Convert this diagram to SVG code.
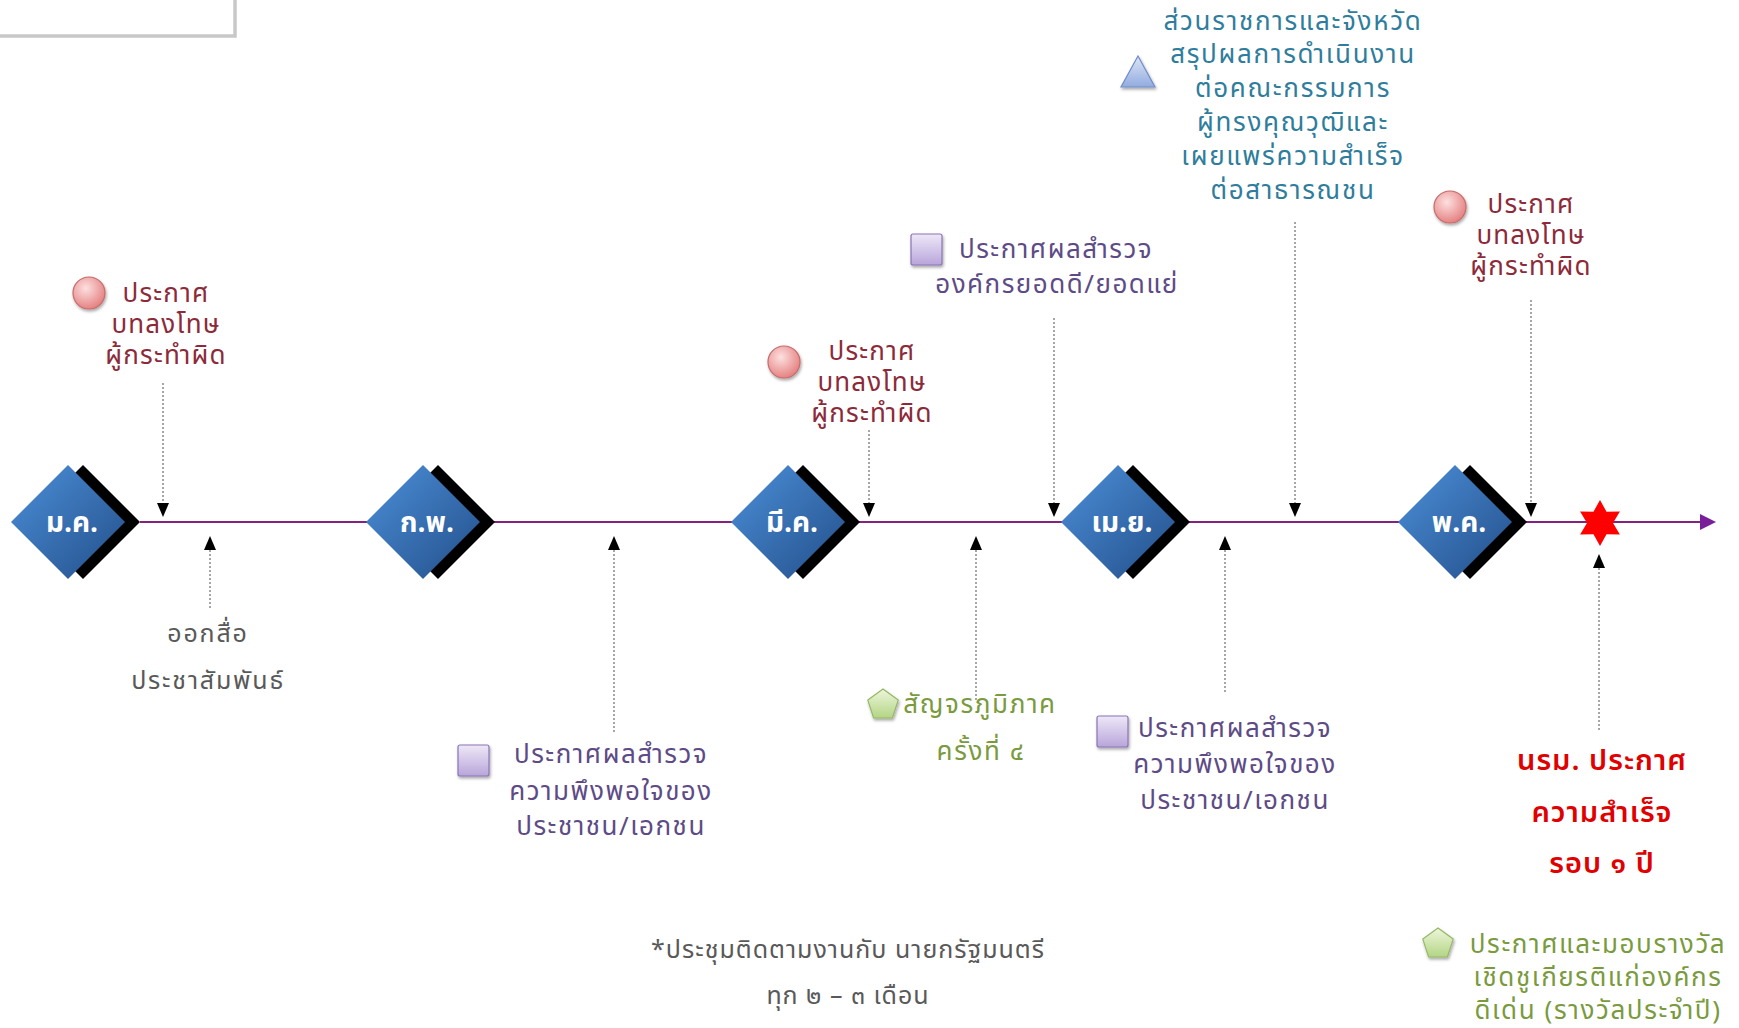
<svg xmlns="http://www.w3.org/2000/svg" width="1739" height="1028" viewBox="0 0 1739 1028">
<defs>
<linearGradient id="gBlue" x1="0" y1="0" x2="1" y2="1"><stop offset="0" stop-color="#4C8FD8"/><stop offset="1" stop-color="#234F8A"/></linearGradient>
<radialGradient id="gRed" cx="0.4" cy="0.35" r="0.7"><stop offset="0" stop-color="#FDE0E0"/><stop offset="1" stop-color="#E47C7C"/></radialGradient>
<linearGradient id="gPur" x1="0" y1="0" x2="0" y2="1"><stop offset="0" stop-color="#EEE8F7"/><stop offset="1" stop-color="#B8A5DA"/></linearGradient>
<linearGradient id="gGrn" x1="0" y1="0" x2="0" y2="1"><stop offset="0" stop-color="#EEF6DC"/><stop offset="1" stop-color="#B3D584"/></linearGradient>
<linearGradient id="gTri" x1="0" y1="0" x2="0" y2="1"><stop offset="0" stop-color="#DCE5F7"/><stop offset="1" stop-color="#92ACDF"/></linearGradient>
<filter id="sh" x="-30%" y="-30%" width="160%" height="160%"><feDropShadow dx="1" dy="2" stdDeviation="1.5" flood-color="#000" flood-opacity="0.35"/></filter>
</defs>
<style>
text{font-family:'Noto Sans Thai','Tahoma','DejaVu Sans','Liberation Sans',sans-serif;text-anchor:middle}
.mon{fill:#fff;font-size:28px;font-weight:bold}
.red{fill:#8C2A3A;font-size:26px;letter-spacing:1.2px}
.pur{fill:#5E4B86;font-size:26px;letter-spacing:1.5px}
.teal{fill:#2F7D9C;font-size:26px;letter-spacing:1.7px}
.grn{fill:#7A9A3E;font-size:26px;letter-spacing:1.6px}
.gry{fill:#595959;font-size:25px;letter-spacing:1.8px}
.note{fill:#595959;font-size:25px;letter-spacing:1px}
.rr{fill:#E00000;font-size:29px;font-weight:600;letter-spacing:1px}
.dot{stroke:#777;stroke-width:1.3;stroke-dasharray:2 2;fill:none}
.ah{fill:#000}
.blk{fill:#000}
.dia{fill:url(#gBlue)}
.circ{fill:url(#gRed);stroke:#C86A6A;stroke-width:1.2}
.sq{fill:url(#gPur);stroke:#8A74B6;stroke-width:1.2}
.pent{fill:url(#gGrn);stroke:#95B865;stroke-width:1.2}
</style>
<rect width="1739" height="1028" fill="#fff"/>

<g id="titlebox">
<rect x="-5" y="-10" width="240" height="46" fill="#fff" stroke="#C8C8C8" stroke-width="3.5"/>
</g>

<g id="connectors">
<line x1="140" y1="522" x2="1702" y2="522" stroke="#85217F" stroke-width="2"/>
<polygon points="1700,514 1716,522 1700,530" fill="#7A1F9A"/>
<line class="dot" x1="163" y1="383" x2="163" y2="503"/><polygon class="ah" points="157,503 169,503 163,517"/>
<line class="dot" x1="869" y1="430" x2="869" y2="503"/><polygon class="ah" points="863,503 875,503 869,517"/>
<line class="dot" x1="1054" y1="318" x2="1054" y2="503"/><polygon class="ah" points="1048,503 1060,503 1054,517"/>
<line class="dot" x1="1295" y1="222" x2="1295" y2="503"/><polygon class="ah" points="1289,503 1301,503 1295,517"/>
<line class="dot" x1="1531" y1="300" x2="1531" y2="503"/><polygon class="ah" points="1525,503 1537,503 1531,517"/>
<line class="dot" x1="210" y1="550" x2="210" y2="610"/><polygon class="ah" points="204,550 216,550 210,536"/>
<line class="dot" x1="614" y1="550" x2="614" y2="732"/><polygon class="ah" points="608,550 620,550 614,536"/>
<line class="dot" x1="976" y1="550" x2="976" y2="700"/><polygon class="ah" points="970,550 982,550 976,536"/>
<line class="dot" x1="1225" y1="550" x2="1225" y2="693"/><polygon class="ah" points="1219,550 1231,550 1225,536"/>
<line class="dot" x1="1599" y1="568" x2="1599" y2="730"/><polygon class="ah" points="1593,568 1605,568 1599,554"/>
</g>

<g id="jan">
<polygon class="blk" points="83,465 140,522 83,579 26,522"/>
<polygon class="dia" points="68,465 125,522 68,579 11,522"/>
<text class="mon" x="72" y="532">ม.ค.</text>
</g>
<g id="feb">
<polygon class="blk" points="438,465 495,522 438,579 381,522"/>
<polygon class="dia" points="423,465 480,522 423,579 366,522"/>
<text class="mon" x="427" y="532">ก.พ.</text>
</g>
<g id="mar">
<polygon class="blk" points="803,465 860,522 803,579 746,522"/>
<polygon class="dia" points="788,465 845,522 788,579 731,522"/>
<text class="mon" x="792" y="532">มี.ค.</text>
</g>
<g id="apr">
<polygon class="blk" points="1133,465 1190,522 1133,579 1076,522"/>
<polygon class="dia" points="1118,465 1175,522 1118,579 1061,522"/>
<text class="mon" x="1122" y="532">เม.ย.</text>
</g>
<g id="may">
<polygon class="blk" points="1470,465 1527,522 1470,579 1413,522"/>
<polygon class="dia" points="1455,465 1512,522 1455,579 1398,522"/>
<text class="mon" x="1459" y="532">พ.ค.</text>
</g>

<g id="star">
<polygon fill="#FF0000" points="1600,500 1606.5,511.7 1619.9,511.5 1613,523 1619.9,534.5 1606.5,534.3 1600,546 1593.5,534.3 1580.1,534.5 1587,523 1580.1,511.5 1593.5,511.7"/>
</g>

<g id="penalty1">
<circle class="circ" cx="89" cy="293" r="16" filter="url(#sh)"/>
<text class="red" x="166" y="302"><tspan x="166">ประกาศ</tspan><tspan x="166" dy="31">บทลงโทษ</tspan><tspan x="166" dy="31">ผู้กระทำผิด</tspan></text>
</g>
<g id="penalty2">
<circle class="circ" cx="784" cy="362" r="16" filter="url(#sh)"/>
<text class="red" x="872" y="360"><tspan x="872">ประกาศ</tspan><tspan x="872" dy="31">บทลงโทษ</tspan><tspan x="872" dy="31">ผู้กระทำผิด</tspan></text>
</g>
<g id="penalty3">
<circle class="circ" cx="1450" cy="207" r="16" filter="url(#sh)"/>
<text class="red" x="1531" y="213"><tspan x="1531">ประกาศ</tspan><tspan x="1531" dy="31">บทลงโทษ</tspan><tspan x="1531" dy="31">ผู้กระทำผิด</tspan></text>
</g>

<g id="pr">
<text class="gry" x="208" y="642"><tspan x="208">ออกสื่อ</tspan><tspan x="208" dy="47">ประชาสัมพันธ์</tspan></text>
</g>

<g id="survey1">
<rect class="sq" x="458" y="745" width="31" height="31" rx="2" filter="url(#sh)"/>
<text class="pur" x="611" y="763"><tspan x="611">ประกาศผลสำรวจ</tspan><tspan x="611" dy="37">ความพึงพอใจของ</tspan><tspan x="611" dy="35">ประชาชน/เอกชน</tspan></text>
</g>
<g id="survey2">
<rect class="sq" x="911" y="234" width="31" height="31" rx="2" filter="url(#sh)"/>
<text class="pur" x="1056" y="258"><tspan x="1056">ประกาศผลสำรวจ</tspan><tspan x="1057" dy="35">องค์กรยอดดี/ยอดแย่</tspan></text>
</g>
<g id="survey3">
<rect class="sq" x="1097" y="716" width="31" height="31" rx="2" filter="url(#sh)"/>
<text class="pur" x="1235" y="737"><tspan x="1235">ประกาศผลสำรวจ</tspan><tspan x="1235" dy="36">ความพึงพอใจของ</tspan><tspan x="1235" dy="36">ประชาชน/เอกชน</tspan></text>
</g>

<g id="report">
<polygon points="1138,56 1155,87 1121,87" fill="url(#gTri)" stroke="#6F8DC9" stroke-width="1.2" filter="url(#sh)"/>
<text class="teal" x="1293" y="30"><tspan x="1293">ส่วนราชการและจังหวัด</tspan><tspan x="1293" dy="33">สรุปผลการดำเนินงาน</tspan><tspan x="1293" dy="34">ต่อคณะกรรมการ</tspan><tspan x="1293" dy="34">ผู้ทรงคุณวุฒิและ</tspan><tspan x="1293" dy="34">เผยแพร่ความสำเร็จ</tspan><tspan x="1293" dy="34">ต่อสาธารณชน</tspan></text>
</g>

<g id="roadshow">
<polygon class="pent" points="883,689 898.2,700.1 892.4,718 873.6,718 867.8,700.1" filter="url(#sh)"/>
<text class="grn" x="980" y="713"><tspan x="980">สัญจรภูมิภาค</tspan><tspan x="981" dy="47">ครั้งที่ ๔</tspan></text>
</g>

<g id="success">
<text class="rr" x="1602" y="770"><tspan x="1602">นรม. ประกาศ</tspan><tspan x="1602" dy="52">ความสำเร็จ</tspan><tspan x="1602" dy="51">รอบ ๑ ปี</tspan></text>
</g>

<g id="award">
<polygon class="pent" points="1438,928 1453.2,939.1 1447.4,957 1428.6,957 1422.8,939.1" filter="url(#sh)"/>
<text class="grn" x="1598" y="953"><tspan x="1598">ประกาศและมอบรางวัล</tspan><tspan x="1598" dy="33">เชิดชูเกียรติแก่องค์กร</tspan><tspan x="1598" dy="33">ดีเด่น (รางวัลประจำปี)</tspan></text>
</g>

<g id="note">
<text class="note" x="848" y="958"><tspan x="848">*ประชุมติดตามงานกับ นายกรัฐมนตรี</tspan><tspan x="848" dy="46">ทุก ๒ – ๓ เดือน</tspan></text>
</g>
</svg>
